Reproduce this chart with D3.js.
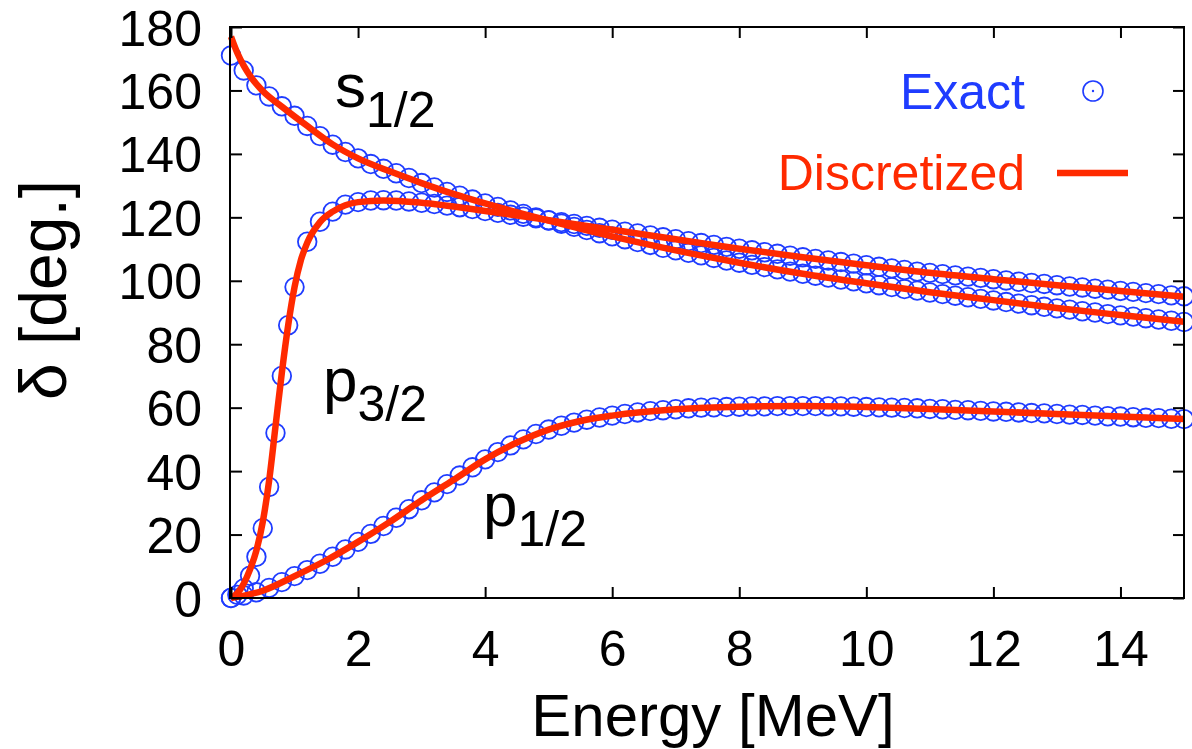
<!DOCTYPE html>
<html>
<head>
<meta charset="utf-8">
<script src="https://cdn.jsdelivr.net/npm/d3@7/dist/d3.min.js"></script>
<style>
  html, body { margin: 0; padding: 0; background: #fff; }
  svg { display: block; font-family: "Liberation Sans", Arial, Helvetica, sans-serif; }
</style>
</head>
<body>
<svg id="chart" width="1192" height="749"></svg>
<script>
// Energy grid (MeV) shared by the s1/2 and p1/2 exact phase shifts
const energyGrid = [
  0.0, 0.2, 0.4, 0.6, 0.8, 1.0, 1.2, 1.4, 1.6, 1.8,
  2.0, 2.2, 2.4, 2.6, 2.8, 3.0, 3.2, 3.4, 3.6, 3.8,
  4.0, 4.2, 4.4, 4.6, 4.8, 5.0, 5.2, 5.4, 5.6, 5.8,
  6.0, 6.2, 6.4, 6.6, 6.8, 7.0, 7.2, 7.4, 7.6, 7.8,
  8.0, 8.2, 8.4, 8.6, 8.8, 9.0, 9.2, 9.4, 9.6, 9.8,
  10.0, 10.2, 10.4, 10.6, 10.8, 11.0, 11.2, 11.4, 11.6, 11.8,
  12.0, 12.2, 12.4, 12.6, 12.8, 13.0, 13.2, 13.4, 13.6, 13.8,
  14.0, 14.2, 14.4, 14.6, 14.8, 15.0
];

// s1/2 exact phase shift (deg)
const s12Exact = [
  171.0, 166.3, 161.6, 158.1, 155.0, 152.0, 148.8, 145.6, 142.9, 140.6,
  138.6, 136.8, 135.3, 133.9, 132.4, 130.8, 129.4, 128.0, 126.8, 125.6,
  124.4, 123.3, 122.2, 121.1, 120.0, 119.0, 118.0, 117.0, 116.0, 115.0,
  114.0, 113.1, 112.2, 111.3, 110.4, 109.6, 108.8, 108.0, 107.2, 106.4,
  105.7, 105.0, 104.3, 103.6, 102.9, 102.2, 101.6, 101.0, 100.4, 99.8,
  99.2, 98.6, 98.0, 97.4, 96.9, 96.3, 95.8, 95.3, 94.8, 94.3,
  93.8, 93.3, 92.8, 92.3, 91.8, 91.3, 90.9, 90.4, 90.0, 89.5,
  89.1, 88.7, 88.2, 87.8, 87.4, 87.0
];

// p1/2 exact phase shift (deg)
const p12Exact = [
  0.0, 0.8, 1.8, 3.2, 5.0, 6.9, 8.8, 10.8, 13.0, 15.3,
  17.7, 20.2, 22.7, 25.3, 28.0, 30.8, 33.3, 35.9, 38.6, 41.2,
  43.7, 46.0, 48.1, 50.0, 51.7, 53.1, 54.3, 55.3, 56.2, 56.9,
  57.5, 58.0, 58.5, 58.9, 59.2, 59.5, 59.8, 60.0, 60.1, 60.2,
  60.3, 60.4, 60.4, 60.5, 60.5, 60.5, 60.5, 60.4, 60.4, 60.3,
  60.2, 60.1, 60.0, 59.9, 59.8, 59.6, 59.5, 59.3, 59.2, 59.0,
  58.8, 58.7, 58.5, 58.3, 58.2, 58.0, 57.8, 57.7, 57.5, 57.3,
  57.2, 57.0, 56.8, 56.7, 56.5, 56.4
];

// p3/2 exact: finer energy steps across the resonance
const p32Energy = [
  0.0, 0.1, 0.2, 0.3, 0.4, 0.5, 0.6, 0.7, 0.8, 0.9, 1.0,
  1.2, 1.4, 1.6, 1.8, 2.0, 2.2, 2.4, 2.6, 2.8, 3.0,
  3.2, 3.4, 3.6, 3.8, 4.0, 4.2, 4.4, 4.6, 4.8, 5.0,
  5.2, 5.4, 5.6, 5.8, 6.0, 6.2, 6.4, 6.6, 6.8, 7.0,
  7.2, 7.4, 7.6, 7.8, 8.0, 8.2, 8.4, 8.6, 8.8, 9.0,
  9.2, 9.4, 9.6, 9.8, 10.0, 10.2, 10.4, 10.6, 10.8, 11.0,
  11.2, 11.4, 11.6, 11.8, 12.0, 12.2, 12.4, 12.6, 12.8, 13.0,
  13.2, 13.4, 13.6, 13.8, 14.0, 14.2, 14.4, 14.6, 14.8, 15.0
];
const p32Exact = [
  0.0, 1.0, 3.0, 7.0, 13.0, 22.0, 35.0, 52.0, 70.0, 86.0, 98.0,
  112.3, 118.6, 121.8, 124.0, 124.8, 125.3, 125.4, 125.3, 125.0, 124.6,
  124.2, 123.7, 123.2, 122.6, 122.0, 121.4, 120.8, 120.2, 119.7, 119.1,
  118.5, 117.9, 117.3, 116.7, 116.1, 115.5, 114.9, 114.3, 113.7, 113.1,
  112.5, 111.9, 111.3, 110.7, 110.1, 109.6, 109.0, 108.5, 107.9, 107.4,
  106.9, 106.4, 105.9, 105.4, 104.9, 104.4, 103.9, 103.4, 102.9, 102.5,
  102.1, 101.7, 101.3, 100.9, 100.5, 100.1, 99.7, 99.3, 99.0, 98.6,
  98.2, 97.9, 97.5, 97.2, 96.8, 96.5, 96.1, 95.8, 95.4, 95.1
];

// Discretized-basis results (continuous curves)
const s12LineE = [0, 0.05, 0.1, 0.2, 0.3, 0.5, 0.8, 1.2, 1.6, 2.0, 2.5, 3, 3.5, 4, 5, 6, 7, 8, 9, 10, 11, 12, 13, 14, 15];
const s12Line  = [177, 174.3, 171.8, 167.8, 164.6, 159.8, 154.9, 148.8, 143.0, 138.6, 134.5, 130.8, 127.4, 124.4, 119.0, 114.0, 109.6, 105.7, 102.2, 99.2, 96.4, 93.9, 91.4, 89.2, 87.1];

const p32LineE = [0, 0.1, 0.2, 0.3, 0.4, 0.5, 0.6, 0.7, 0.8, 0.9, 1.0, 1.1, 1.2, 1.4, 1.6, 1.8, 2.0, 2.4, 3, 4, 5, 6, 7, 8, 9, 10, 11, 12, 13, 14, 15];
const p32Line  = [0, 1.5, 4.5, 9, 15, 24, 37, 54, 71, 86, 98, 106.5, 112, 118.5, 121.8, 123.8, 124.8, 125.3, 124.6, 122.0, 119.1, 116.1, 113.1, 110.1, 107.4, 104.9, 102.5, 100.5, 98.6, 96.8, 95.0];

const p12LineE = [0, 0.5, 1, 1.5, 2, 2.5, 3, 3.5, 4, 4.5, 5, 5.5, 6, 7, 8, 9, 10, 11, 12, 13, 14, 15];
const p12Line  = [0, 2.3, 6.9, 11.9, 17.7, 24.0, 30.8, 37.2, 43.7, 49.0, 53.1, 55.8, 57.5, 59.5, 60.3, 60.5, 60.2, 59.6, 58.8, 58.0, 57.2, 56.4];

// Axis ticks
const xTicks = [0, 2, 4, 6, 8, 10, 12, 14];
const yTicks = [0, 20, 40, 60, 80, 100, 120, 140, 160, 180];

const BLUE = "#1f3cff";
const RED = "#ff2a00";

const svg = d3.select("#chart");
const plotLeft = 231, plotRight = 1184, plotTop = 27, plotBottom = 598;
const x = d3.scaleLinear().domain([0, 15]).range([plotLeft, plotRight]);
const y = d3.scaleLinear().domain([0, 180]).range([plotBottom, plotTop]);

// Exact points (open circles)
function drawCircles(es, vs) {
  svg.append("g")
    .selectAll("circle")
    .data(es.map((e, i) => [e, vs[i]]))
    .join("circle")
    .attr("cx", d => x(d[0]))
    .attr("cy", d => y(d[1]))
    .attr("r", 9.3)
    .attr("fill", "none")
    .attr("stroke", BLUE)
    .attr("stroke-width", 1.8);
}
drawCircles(energyGrid, s12Exact);
drawCircles(p32Energy, p32Exact);
drawCircles(energyGrid, p12Exact);

// Discretized curves
const line = d3.line().x(d => x(d[0])).y(d => y(d[1])).curve(d3.curveMonotoneX);
function drawLine(es, vs) {
  svg.append("path")
    .datum(es.map((e, i) => [e, vs[i]]))
    .attr("d", line)
    .attr("fill", "none")
    .attr("stroke", RED)
    .attr("stroke-width", 6.5)
    .attr("stroke-linejoin", "round");
}
drawLine(s12LineE, s12Line);
drawLine(p32LineE, p32Line);
drawLine(p12LineE, p12Line);

// Frame with inward ticks on all four sides
const tickLen = 11;
const axisStyle = g => {
  g.select(".domain").remove();
  g.selectAll(".tick line").attr("stroke", "#000").attr("stroke-width", 2);
};
svg.append("g")
  .attr("transform", `translate(0,${plotBottom})`)
  .call(d3.axisBottom(x).tickValues(xTicks).tickSize(-tickLen).tickFormat(d3.format("d")))
  .call(axisStyle)
  .call(g => g.selectAll(".tick text")
    .attr("y", 68).attr("dy", 0)
    .attr("fill", "#000").attr("font-size", 50)
    .attr("font-family", "Liberation Sans, Arial, sans-serif"));
svg.append("g")
  .attr("transform", `translate(0,${plotTop})`)
  .call(d3.axisTop(x).tickValues(xTicks).tickSize(-tickLen).tickFormat(""))
  .call(axisStyle);
svg.append("g")
  .attr("transform", `translate(${plotLeft},0)`)
  .call(d3.axisLeft(y).tickValues(yTicks).tickSize(-tickLen).tickFormat(d3.format("d")))
  .call(axisStyle)
  .call(g => g.selectAll(".tick text")
    .attr("x", -29).attr("dy", "0.36em")
    .attr("fill", "#000").attr("font-size", 50)
    .attr("font-family", "Liberation Sans, Arial, sans-serif"));
svg.append("g")
  .attr("transform", `translate(${plotRight},0)`)
  .call(d3.axisRight(y).tickValues(yTicks).tickSize(-tickLen).tickFormat(""))
  .call(axisStyle);

svg.append("rect")
  .attr("x", plotLeft - 1).attr("y", plotTop)
  .attr("width", plotRight - plotLeft + 1).attr("height", plotBottom - plotTop)
  .attr("fill", "none").attr("stroke", "#000").attr("stroke-width", 2);

// Axis titles
svg.append("text")
  .attr("x", 713).attr("y", 736)
  .attr("text-anchor", "middle")
  .attr("font-size", 60)
  .text("Energy [MeV]");
svg.append("text")
  .attr("transform", "translate(66,290) rotate(-90)")
  .attr("text-anchor", "middle")
  .attr("font-size", 66)
  .text("δ [deg.]");

// Partial-wave labels
function waveLabel(px, py, main, sub) {
  const t = svg.append("text").attr("x", px).attr("y", py).attr("font-size", 62);
  t.append("tspan").text(main);
  t.append("tspan").attr("dy", 20).attr("font-size", 50).text(sub);
}
waveLabel(335, 107, "s", "1/2");
waveLabel(323, 401, "p", "3/2");
waveLabel(483, 526, "p", "1/2");

// Legend
const legend = svg.append("g");
legend.append("text")
  .attr("x", 1025).attr("y", 109)
  .attr("text-anchor", "end").attr("font-size", 50)
  .attr("fill", BLUE).text("Exact");
legend.append("circle")
  .attr("cx", 1093).attr("cy", 91).attr("r", 10)
  .attr("fill", "none").attr("stroke", BLUE).attr("stroke-width", 1.6);
legend.append("circle")
  .attr("cx", 1093).attr("cy", 91).attr("r", 1.2)
  .attr("fill", BLUE);
legend.append("text")
  .attr("x", 1025).attr("y", 190)
  .attr("text-anchor", "end").attr("font-size", 50)
  .attr("fill", RED).text("Discretized");
legend.append("line")
  .attr("x1", 1057).attr("x2", 1128).attr("y1", 173).attr("y2", 173)
  .attr("stroke", RED).attr("stroke-width", 6.5);
</script>
</body>
</html>
